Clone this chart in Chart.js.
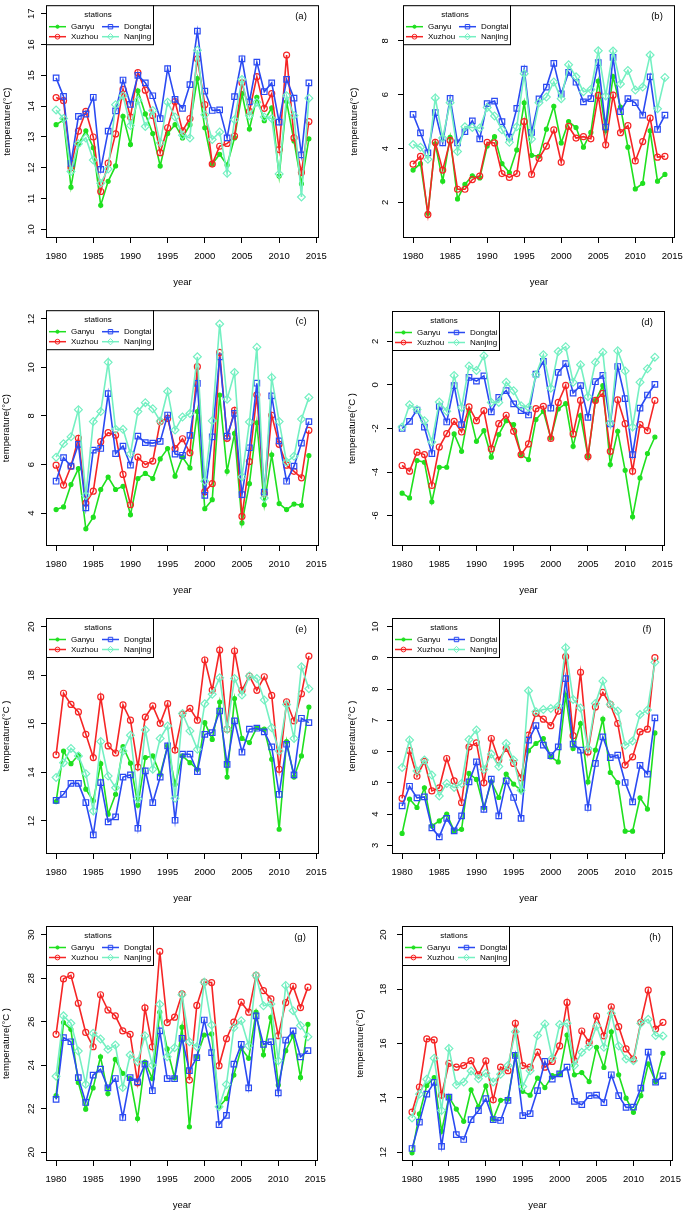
<!DOCTYPE html>
<html>
<head>
<meta charset="utf-8">
<title>Station temperature series</title>
<script src="https://cdn.jsdelivr.net/npm/chart.js@4.4.1/dist/chart.umd.min.js"></script>
<style>
  html, body { margin: 0; padding: 0; background: #fff; }
  #page { position: relative; width: 685px; height: 1211px; overflow: hidden; background: #fff; }
  #page canvas { position: absolute; }
</style>
</head>
<body>
<div id="page"></div>
<script>
'use strict';

// ---- data ----
const years = [1980, 1981, 1982, 1983, 1984, 1985, 1986, 1987, 1988, 1989,
               1990, 1991, 1992, 1993, 1994, 1995, 1996, 1997, 1998, 1999,
               2000, 2001, 2002, 2003, 2004, 2005, 2006, 2007, 2008, 2009,
               2010, 2011, 2012, 2013, 2014];
const stations = ['Ganyu', 'Xuzhou', 'Dongtai', 'Nanjing'];
const xTicks = [1980, 1985, 1990, 1995, 2000, 2005, 2010, 2015];

// (a)
const ganyuA   = [13.40, 13.55, 11.37, 12.76, 13.20, 12.65, 10.78, 11.56, 12.06, 13.67, 12.76, 14.50, 13.75, 13.11, 12.06, 13.11, 13.40, 12.97, 13.40, 14.90, 13.30, 12.12, 12.44, 12.09, 12.97, 14.41, 13.26, 14.29, 13.53, 13.95, 11.73, 14.15, 12.87, 11.48, 12.94];
const xuzhouA  = [14.28, 14.18, 12.00, 13.19, 13.83, 13.00, 11.23, 12.15, 13.10, 14.55, 13.65, 15.09, 14.52, 13.70, 12.49, 13.30, 14.15, 13.20, 13.60, 15.54, 14.05, 12.12, 12.70, 12.79, 13.03, 14.76, 13.83, 14.96, 13.93, 14.41, 12.59, 15.66, 12.97, 11.85, 13.50];
const dongtaiA = [14.92, 14.32, 12.14, 13.67, 13.74, 14.29, 11.95, 13.19, 13.85, 14.85, 14.06, 15.00, 14.76, 14.34, 13.60, 15.22, 14.22, 13.93, 14.70, 16.44, 14.49, 13.86, 13.88, 12.97, 14.31, 15.54, 14.14, 15.43, 14.47, 14.76, 13.48, 14.87, 14.26, 12.42, 14.76];
const nanjingA = [13.88, 13.60, 11.88, 12.78, 12.97, 12.25, 11.50, 11.96, 14.05, 14.34, 13.37, 14.19, 13.34, 13.86, 12.81, 14.13, 13.65, 13.06, 12.97, 15.82, 13.72, 12.92, 13.16, 11.82, 13.56, 14.87, 13.69, 14.13, 13.65, 13.60, 11.80, 14.34, 13.70, 11.05, 14.26];
const ticksA = [10, 11, 12, 13, 14, 15, 16, 17];

// (b)
const ganyuB   = [3.20, 3.44, 1.60, 4.17, 2.79, 4.42, 2.13, 2.67, 2.99, 2.91, 4.09, 4.44, 3.44, 3.11, 3.95, 5.70, 3.75, 3.71, 4.72, 5.57, 4.21, 5.00, 4.78, 4.05, 4.60, 6.50, 4.66, 6.67, 5.54, 4.05, 2.50, 2.71, 4.66, 2.79, 3.04];
const xuzhouB  = [3.42, 3.71, 1.55, 4.23, 3.20, 4.30, 2.49, 2.49, 2.85, 2.98, 4.23, 4.21, 3.07, 2.93, 3.07, 5.00, 3.04, 3.64, 4.09, 4.69, 3.49, 4.82, 4.39, 4.44, 4.36, 5.97, 4.14, 5.98, 4.59, 4.85, 3.54, 4.26, 5.13, 3.68, 3.71];
const dongtaiB = [5.27, 4.58, 3.84, 5.33, 4.21, 5.86, 4.21, 4.63, 5.03, 4.36, 5.67, 5.76, 5.00, 4.42, 5.49, 6.95, 4.60, 5.84, 6.28, 7.16, 6.03, 6.83, 6.46, 5.73, 5.85, 7.19, 4.80, 7.38, 5.37, 5.85, 5.70, 5.24, 6.66, 4.71, 5.24];
const nanjingB = [4.15, 4.05, 3.60, 5.88, 4.39, 5.70, 3.89, 4.81, 4.78, 4.76, 5.52, 5.21, 4.70, 4.23, 4.81, 6.78, 4.35, 5.70, 5.91, 6.47, 5.85, 7.11, 6.66, 6.11, 6.19, 7.63, 5.95, 7.62, 6.40, 6.90, 6.17, 6.28, 7.47, 5.48, 6.64];
const ticksB = [2, 4, 6, 8];

// (c)
const ganyuC   = [4.14, 4.25, 5.17, 5.83, 3.35, 3.83, 4.97, 5.48, 4.97, 5.10, 3.93, 5.42, 5.63, 5.42, 6.23, 6.66, 5.52, 6.30, 5.86, 8.18, 4.18, 4.55, 8.86, 5.72, 7.28, 3.59, 5.21, 7.72, 4.34, 6.40, 4.39, 4.14, 4.37, 4.32, 6.37];
const xuzhouC  = [5.97, 5.15, 5.93, 7.08, 4.41, 4.90, 6.94, 7.31, 7.21, 5.59, 4.34, 6.30, 6.00, 6.14, 7.77, 7.90, 6.65, 7.06, 6.48, 10.03, 4.88, 5.21, 10.62, 7.08, 8.23, 3.86, 6.12, 8.87, 4.80, 8.03, 6.83, 5.97, 5.72, 5.45, 7.41];
const dongtaiC = [5.31, 6.28, 5.93, 6.83, 4.21, 6.59, 6.66, 8.92, 6.45, 6.76, 5.97, 7.17, 6.90, 6.88, 6.95, 8.04, 6.43, 6.38, 7.20, 9.34, 4.73, 7.14, 10.44, 7.17, 8.11, 4.76, 6.69, 9.35, 4.86, 8.83, 6.97, 5.31, 5.93, 6.88, 7.77];
const nanjingC = [6.30, 6.86, 7.14, 8.26, 4.72, 7.77, 8.18, 10.21, 7.45, 7.45, 6.44, 8.18, 8.55, 8.30, 7.79, 9.01, 7.42, 7.96, 8.10, 10.44, 5.31, 7.80, 11.79, 8.69, 9.79, 5.49, 7.75, 10.83, 4.62, 9.59, 7.77, 6.10, 6.34, 7.87, 8.76];
const ticksC = [4, 6, 8, 10, 12];

// (d)
const ganyuD   = [-4.97, -5.19, -3.47, -3.55, -5.37, -3.78, -3.78, -2.25, -3.05, -1.18, -2.59, -2.10, -3.32, -2.28, -1.64, -1.82, -3.20, -3.43, -1.59, -1.21, -2.43, -1.10, -0.86, -2.82, -1.41, -3.28, -0.72, -0.03, -3.66, -2.13, -3.92, -6.06, -4.27, -3.15, -2.39];
const xuzhouD  = [-3.70, -3.96, -3.09, -3.20, -4.62, -2.85, -2.24, -1.67, -2.16, -1.01, -1.64, -1.18, -2.94, -1.78, -1.39, -2.13, -3.20, -2.71, -1.09, -0.98, -2.46, -0.80, -0.02, -2.25, -0.71, -3.29, -0.71, -0.39, -3.05, -0.68, -1.78, -3.96, -1.82, -2.10, -0.71];
const dongtaiD = [-2.00, -1.67, -1.15, -1.94, -3.15, -0.98, -1.70, -0.03, -1.82, 0.35, 0.18, 0.42, -1.24, -0.57, -0.26, -0.87, -1.18, -1.38, 0.50, 1.08, -1.06, 0.58, 0.98, -0.37, -0.03, -1.49, 0.15, 0.44, -1.79, 0.85, -0.63, -3.20, -1.06, -0.46, 0.03];
const nanjingD = [-1.93, -0.91, -1.13, -1.64, -2.62, -0.78, -1.21, 0.44, -1.03, 0.87, 0.67, 1.34, -0.80, -0.80, 0.13, -0.26, -0.95, -1.03, 0.47, 1.39, -0.15, 1.54, 1.76, 0.13, 0.93, -0.54, 1.04, 1.50, -1.75, 1.57, 0.64, -1.93, 0.13, 0.75, 1.28];
const ticksD = [-6, -4, -2, 0, 2];

// (e)
const ganyuE   = [12.80, 14.88, 14.36, 14.72, 13.31, 12.83, 14.36, 12.28, 13.10, 15.06, 14.38, 12.65, 14.61, 14.68, 13.92, 15.09, 13.51, 14.68, 14.40, 14.13, 16.05, 15.36, 16.90, 13.81, 17.04, 15.40, 15.23, 15.84, 15.78, 14.54, 11.66, 15.27, 13.81, 14.68, 16.69];
const xuzhouE  = [14.72, 17.26, 16.80, 16.49, 15.57, 14.61, 17.11, 15.09, 14.80, 16.78, 16.15, 14.22, 16.28, 16.74, 16.02, 16.83, 14.92, 16.40, 16.64, 16.15, 18.63, 17.39, 19.04, 15.78, 19.00, 17.38, 17.97, 17.38, 17.94, 17.17, 14.13, 16.91, 16.12, 17.24, 18.79];
const dongtaiE = [12.85, 13.10, 13.55, 13.55, 12.76, 11.43, 13.58, 11.96, 12.17, 13.81, 13.90, 11.70, 14.06, 12.76, 13.81, 15.09, 12.03, 14.75, 14.75, 14.03, 15.57, 15.64, 16.53, 14.33, 16.12, 14.84, 15.78, 15.82, 15.67, 15.05, 13.10, 15.16, 13.90, 16.23, 16.05];
const nanjingE = [13.79, 14.40, 14.99, 14.68, 13.95, 12.41, 15.27, 13.85, 13.37, 14.88, 15.53, 12.92, 15.75, 14.13, 15.40, 15.91, 12.94, 16.43, 15.71, 14.95, 16.83, 17.22, 17.90, 15.78, 17.87, 17.19, 17.97, 17.87, 16.98, 15.84, 14.88, 16.80, 15.40, 18.35, 17.45];
const ticksE = [12, 14, 16, 18, 20];

// (f)
const ganyuF   = [3.38, 4.48, 4.21, 4.84, 3.62, 3.78, 4.00, 3.46, 3.51, 5.30, 5.11, 4.21, 5.03, 4.53, 5.28, 4.96, 4.76, 6.03, 6.26, 6.42, 5.83, 5.67, 7.81, 6.10, 6.90, 5.03, 6.05, 7.04, 5.33, 5.01, 3.45, 3.45, 4.52, 4.16, 6.60];
const xuzhouF  = [4.50, 6.03, 5.21, 5.69, 4.74, 4.84, 5.78, 5.06, 4.37, 6.15, 6.28, 5.00, 6.42, 5.73, 6.10, 5.62, 5.16, 6.53, 7.22, 7.04, 6.83, 7.30, 9.04, 6.51, 8.54, 5.99, 7.43, 7.90, 7.51, 6.90, 5.57, 5.83, 6.63, 6.72, 9.01];
const dongtaiF = [4.26, 4.89, 4.52, 4.55, 3.56, 3.27, 3.86, 3.46, 3.94, 5.03, 5.67, 4.15, 5.12, 3.94, 5.06, 4.53, 3.86, 6.37, 6.83, 6.21, 5.87, 6.15, 8.34, 6.24, 6.05, 4.21, 5.62, 6.47, 5.81, 5.89, 5.01, 4.39, 5.56, 5.28, 7.08];
const nanjingF = [5.49, 6.37, 5.38, 5.73, 5.25, 4.58, 4.98, 4.85, 4.98, 6.39, 6.69, 5.43, 5.92, 5.52, 6.26, 5.73, 4.76, 7.95, 7.28, 7.35, 7.38, 7.46, 9.33, 7.67, 7.40, 6.10, 7.54, 8.26, 7.51, 7.30, 6.20, 6.34, 7.19, 7.33, 8.86];
const ticksF = [3, 4, 5, 6, 7, 8, 9, 10];

// (g)
const ganyuG   = [22.60, 25.96, 25.65, 23.21, 21.98, 22.96, 24.39, 22.70, 24.27, 23.63, 23.39, 21.55, 24.15, 23.39, 26.44, 24.75, 23.43, 25.75, 21.17, 24.39, 25.39, 25.44, 22.09, 22.47, 23.55, 24.78, 24.32, 26.44, 24.48, 26.20, 23.09, 24.67, 25.36, 23.44, 25.88];
const xuzhouG  = [25.42, 27.97, 28.13, 26.85, 25.51, 24.85, 27.24, 26.54, 26.27, 25.58, 25.42, 23.20, 26.64, 24.85, 29.23, 25.96, 26.21, 27.28, 23.32, 26.75, 27.82, 27.80, 23.98, 25.22, 25.98, 26.90, 26.44, 28.13, 27.43, 27.05, 25.36, 26.88, 27.63, 26.65, 27.59];
const dongtaiG = [22.43, 25.27, 25.08, 23.43, 22.29, 23.55, 23.82, 22.96, 23.39, 21.60, 23.43, 23.24, 24.05, 22.83, 25.58, 23.39, 23.39, 25.24, 23.75, 24.35, 26.08, 24.58, 21.27, 21.70, 24.05, 24.96, 22.96, 26.27, 24.96, 25.08, 22.73, 25.16, 25.58, 24.39, 24.67];
const nanjingG = [23.50, 26.27, 25.93, 24.65, 23.13, 25.47, 25.21, 24.73, 24.93, 22.98, 24.47, 24.16, 25.36, 24.00, 26.80, 24.39, 24.81, 27.24, 25.08, 24.85, 27.82, 25.85, 22.09, 23.12, 25.72, 26.05, 24.90, 28.13, 26.73, 26.82, 24.21, 27.67, 26.51, 25.83, 25.31];
const ticksG = [20, 22, 24, 26, 28, 30];

// (h)
const ganyuH   = [11.98, 13.41, 14.46, 14.75, 12.77, 14.03, 13.59, 13.14, 14.30, 13.67, 14.44, 13.22, 13.91, 13.96, 15.56, 14.24, 14.10, 14.73, 14.38, 14.82, 14.88, 16.31, 14.85, 14.93, 14.60, 15.86, 15.12, 16.43, 14.85, 13.99, 13.47, 14.08, 15.25, 14.60, 15.64];
const xuzhouH  = [13.48, 14.40, 16.17, 16.13, 14.10, 15.27, 15.13, 15.19, 15.37, 14.85, 15.36, 13.93, 15.13, 15.00, 16.74, 15.19, 15.13, 15.68, 15.13, 15.34, 15.91, 17.51, 15.37, 16.46, 16.04, 17.01, 16.28, 17.35, 16.62, 15.80, 15.43, 16.78, 17.96, 16.53, 16.78];
const dongtaiH = [12.14, 13.11, 14.14, 14.57, 12.22, 14.03, 12.65, 12.47, 13.20, 13.53, 13.97, 13.20, 13.17, 13.91, 15.56, 13.35, 13.42, 14.27, 15.34, 14.69, 14.88, 15.13, 13.87, 13.75, 14.08, 14.10, 13.83, 14.85, 14.08, 13.65, 13.66, 14.36, 15.68, 14.58, 14.81];
const nanjingH = [13.26, 14.14, 14.69, 15.46, 13.54, 15.82, 14.48, 14.58, 14.99, 14.70, 14.91, 14.58, 14.87, 15.19, 16.43, 14.42, 15.00, 16.29, 16.72, 15.46, 16.70, 16.74, 15.19, 15.68, 15.89, 16.64, 15.86, 17.11, 15.91, 15.43, 15.37, 16.74, 16.89, 16.29, 16.28];
const ticksH = [12, 14, 16, 18, 20];

// ---- looks ----
const FONT = '"Liberation Sans", Arial, Helvetica, sans-serif';
Chart.defaults.font.family = FONT;

const looks = [
    { color: '#1fe01f', fill: '#1fe01f', style: 'circle',  r: 2 },    // Ganyu: filled dot
    { color: '#f52525', fill: 'rgba(0,0,0,0)', style: 'circle',  r: 3 },    // Xuzhou: open circle
    { color: '#2a4af2', fill: 'rgba(0,0,0,0)', style: 'rect',    r: 3.9 },  // Dongtai: open square
    { color: '#74f0c2', fill: 'rgba(0,0,0,0)', style: 'rectRot', r: 3.9 }   // Nanjing: open diamond
];

// panel layout: cell = canvas rect on the page, box = plot frame on the page
const panels = [
    { tag: '(a)', cell: [0, 0, 342, 305],     box: [46, 2, 319, 238],     ylim: [10, 17], yTicks: ticksA, tickPad: 4,   titlePad: 1.3,  yTitle: 'temperature(°C)',  series: [ganyuA, xuzhouA, dongtaiA, nanjingA] },
    { tag: '(b)', cell: [342, 0, 343, 305],   box: [403, 3, 675, 238],    ylim: [1, 9],   yTicks: ticksB, tickPad: 9.8, titlePad: 7,    yTitle: 'temperature(°C)',  series: [ganyuB, xuzhouB, dongtaiB, nanjingB] },
    { tag: '(c)', cell: [0, 305, 342, 300],   box: [46, 310, 319, 546],   ylim: [3, 12],  yTicks: ticksC, tickPad: 4,   titlePad: 1,    yTitle: 'temperature(°C)',  series: [ganyuC, xuzhouC, dongtaiC, nanjingC] },
    { tag: '(d)', cell: [342, 305, 343, 300], box: [392, 311, 665, 546],  ylim: [-7, 3],  yTicks: ticksD, tickPad: 7.5, titlePad: 4.3,  yTitle: 'temperature(°C )', series: [ganyuD, xuzhouD, dongtaiD, nanjingD] },
    { tag: '(e)', cell: [0, 605, 342, 300],   box: [46, 618, 319, 854],   ylim: [11, 20], yTicks: ticksE, tickPad: 4,   titlePad: 1,    yTitle: 'temperature(°C )', series: [ganyuE, xuzhouE, dongtaiE, nanjingE] },
    { tag: '(f)', cell: [342, 605, 343, 300], box: [392, 618, 665, 854],  ylim: [3, 10],  yTicks: ticksF, tickPad: 6.4, titlePad: 4.3,  yTitle: 'temperature(°C )', series: [ganyuF, xuzhouF, dongtaiF, nanjingF] },
    { tag: '(g)', cell: [0, 905, 342, 306],   box: [46, 926, 318, 1161],  ylim: [20, 30], yTicks: ticksG, tickPad: 4,   titlePad: 1,    yTitle: 'temperature(°C )', series: [ganyuG, xuzhouG, dongtaiG, nanjingG] },
    { tag: '(h)', cell: [342, 905, 343, 306], box: [402, 926, 673, 1161], ylim: [12, 20], yTicks: ticksH, tickPad: 8,   titlePad: 12.6, yTitle: 'temperature(°C)',  series: [ganyuH, xuzhouH, dongtaiH, nanjingH] }
];

// frame, legend and panel letter, drawn R style on top of the plot
const framePlugin = {
    id: 'frame',
    afterDraw(chart, args, opts) {
        const ctx = chart.ctx;
        const a = chart.chartArea;
        ctx.save();

        // plot box
        ctx.strokeStyle = '#000';
        ctx.lineWidth = 1;
        ctx.strokeRect(a.left + 0.5, a.top + 0.5, a.right - a.left - 1, a.bottom - a.top - 1);

        // legend
        const L = a.left, T = a.top, W = 107, H = 39;
        ctx.fillStyle = '#fff';
        ctx.fillRect(L, T, W, H);
        ctx.strokeRect(L + 0.5, T + 0.5, W, H);
        ctx.fillStyle = '#000';
        ctx.font = '8px ' + FONT;
        ctx.textAlign = 'center';
        ctx.textBaseline = 'middle';
        ctx.fillText('stations', L + 52, T + 10);

        chart.data.datasets.forEach((ds, i) => {
            const col = Math.floor(i / 2);
            const row = i % 2;
            const x0 = L + 3 + col * 53;
            const y = T + 21.5 + row * 10;
            const lk = looks[i];
            ctx.strokeStyle = lk.color;
            ctx.lineWidth = 1.5;
            ctx.beginPath();
            ctx.moveTo(x0, y);
            ctx.lineTo(x0 + 17, y);
            ctx.stroke();
            ctx.fillStyle = lk.fill;
            ctx.lineWidth = 1;
            Chart.helpers.drawPoint(ctx, { pointStyle: lk.style, radius: lk.r * 0.8, rotation: 0, borderWidth: 1 }, x0 + 8.5, y);
            ctx.fillStyle = '#000';
            ctx.textAlign = 'left';
            ctx.fillText(ds.label, x0 + 22, y);
        });

        // panel letter
        ctx.fillStyle = '#000';
        ctx.font = '9.5px ' + FONT;
        ctx.textAlign = 'center';
        ctx.fillText(opts.tag, a.right - 18, a.top + 11);
        ctx.restore();
    }
};

function makePanel(p) {
    const [cx, cy, cw, ch] = p.cell;
    const [bl, bt, br, bb] = p.box;
    const xAxisH = 50;
    const yPad = (p.ylim[1] - p.ylim[0]) * 0.04;

    const canvas = document.createElement('canvas');
    canvas.width = cw;
    canvas.height = ch;
    canvas.style.left = cx + 'px';
    canvas.style.top = cy + 'px';
    canvas.style.width = cw + 'px';
    canvas.style.height = ch + 'px';
    document.getElementById('page').appendChild(canvas);

    const datasets = stations.map((name, i) => ({
        label: name,
        data: years.map((yr, k) => ({ x: yr, y: p.series[i][k] })),
        borderColor: looks[i].color,
        backgroundColor: looks[i].fill,
        borderWidth: 1.6,
        pointStyle: looks[i].style,
        pointRadius: looks[i].r,
        pointBorderWidth: 1.2,
        pointBorderColor: looks[i].color,
        pointBackgroundColor: looks[i].fill,
        tension: 0,
        fill: false,
        order: 3 - i   // later stations drawn on top, like R
    }));

    const axisGrid = { drawOnChartArea: false, drawTicks: true, tickLength: 5, color: '#000', lineWidth: 1 };

    return new Chart(canvas, {
        type: 'line',
        data: { datasets: datasets },
        options: {
            responsive: false,
            animation: false,
            devicePixelRatio: 1,
            layout: { padding: { left: 0, top: bt - cy, right: cx + cw - br, bottom: cy + ch - bb - xAxisH } },
            plugins: {
                legend: { display: false },
                tooltip: { enabled: false },
                frame: { tag: p.tag }
            },
            scales: {
                x: {
                    type: 'linear',
                    min: 1978.64,
                    max: 2015.36,
                    afterBuildTicks: s => { s.ticks = xTicks.map(v => ({ value: v })); },
                    afterFit: s => { s.height = xAxisH; s.paddingLeft = 0; s.paddingRight = 0; },
                    grid: axisGrid,
                    border: { display: false },
                    ticks: { color: '#000', font: { size: 9.5 }, padding: 8, autoSkip: false, minRotation: 0, maxRotation: 0, callback: v => String(v) },
                    title: { display: true, text: 'year', color: '#000', font: { size: 9.5 }, padding: { top: 0, bottom: 0 } }
                },
                y: {
                    min: p.ylim[0] - yPad,
                    max: p.ylim[1] + yPad,
                    afterBuildTicks: s => { s.ticks = p.yTicks.map(v => ({ value: v })); },
                    afterFit: s => { s.width = bl - cx; s.paddingTop = 0; s.paddingBottom = 0; },
                    grid: axisGrid,
                    border: { display: false },
                    ticks: { color: '#000', font: { size: 9.5 }, padding: p.tickPad, minRotation: 90, maxRotation: 90, crossAlign: 'center', callback: v => String(v) },
                    title: { display: true, text: p.yTitle, color: '#000', font: { size: 9.5 }, padding: { top: p.titlePad, bottom: 0 } }
                }
            }
        },
        plugins: [framePlugin]
    });
}

panels.forEach(makePanel);
</script>
</body>
</html>
